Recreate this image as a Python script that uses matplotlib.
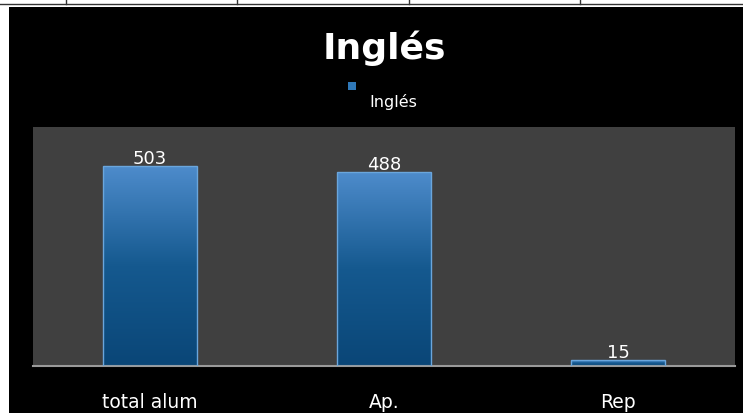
import numpy as np
import matplotlib.pyplot as plt
from matplotlib.patches import Rectangle
from matplotlib.colors import LinearSegmentedColormap
from matplotlib.lines import Line2D

categories = ["total alum", "Ap.", "Rep"]
values = [503, 488, 15]
series_name = "Inglés"

W, H = 743, 414
fig = plt.figure(figsize=(W / 100, H / 100), dpi=100)
fig.patch.set_facecolor("white")

# black chart frame (spreadsheet cells visible above)
fig.patches.append(Rectangle((9 / W, 0), 1 - 9 / W, 1 - 8 / H, transform=fig.transFigure,
                             facecolor="black", edgecolor="none", zorder=-10))
fig.add_artist(Line2D([0, 1], [1 - 5 / H, 1 - 5 / H], transform=fig.transFigure, color="#333333", lw=1))
for gx in [66, 237, 409, 580]:
    fig.add_artist(Line2D([gx / W, gx / W], [1 - 5 / H, 1], transform=fig.transFigure, color="#333333", lw=1))

ax = fig.add_axes([33 / W, 1 - 367 / H, (735 - 33) / W, (367 - 128) / H])
ax.set_facecolor("#404040")

cmap = LinearSegmentedColormap.from_list("blu", ["#0a4677", "#15598f", "#4e8ccc"])
grad = np.linspace(0, 1, 256).reshape(-1, 1)
bars = ax.bar(range(len(values)), values, width=0.4, color="none", edgecolor="#6aa6dc", lw=1, zorder=3)
for b in bars:
    x0, y0, w, h = b.get_x(), b.get_y(), b.get_width(), b.get_height()
    im = ax.imshow(grad, cmap=cmap, origin="lower", aspect="auto",
                   extent=[x0, x0 + w, y0, y0 + max(h, 1)], zorder=2)
    im.set_clip_path(b)
ax.set_xlim(-0.5, 2.5)
ax.set_ylim(0, 600)

for i, v in enumerate(values):
    ax.text(i, v + 20, str(v), ha="center", va="center", color="white", fontsize=13, zorder=4)

for s in ["top", "right", "left"]:
    ax.spines[s].set_visible(False)
ax.spines["bottom"].set_color("#9a9a9a")
ax.spines["bottom"].set_linewidth(1.5)
ax.set_yticks([])
ax.set_xticks(range(len(categories)))
ax.set_xticklabels(categories, color="white", fontsize=13.5)
ax.tick_params(axis="x", length=0, pad=18.5)

fig.text(384 / W, 1 - 48 / H, series_name, ha="center", va="center", color="white",
         fontsize=26, fontweight="bold")
fig.patches.append(Rectangle((348 / W, 1 - 91 / H), 8 / W, 8 / H, transform=fig.transFigure,
                             facecolor="#2f78b8", edgecolor="none"))
fig.text(369 / W, 1 - 102 / H, series_name, ha="left", va="center", color="white", fontsize=11.5)

fig.savefig("out.png", dpi=100)
